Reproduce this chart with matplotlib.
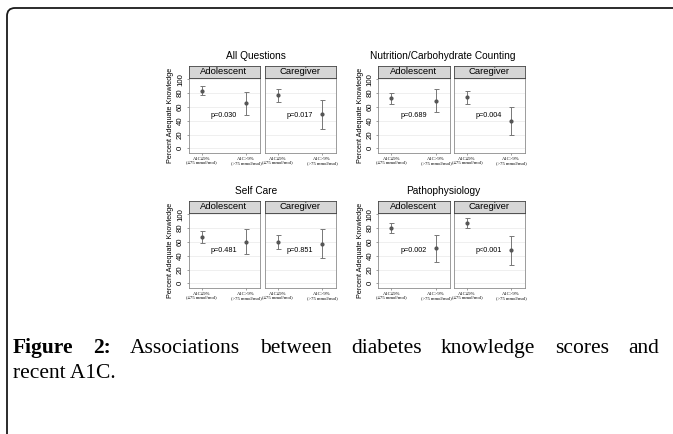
import numpy as np
import matplotlib
matplotlib.use("Agg")
import matplotlib.pyplot as plt
from matplotlib.patches import FancyBboxPatch
from matplotlib.transforms import IdentityTransform

# values (percent adequate knowledge, mean and 95% CI)
topics = ["All Questions", "Nutrition/Carbohydrate Counting", "Self Care", "Pathophysiology"]
groups = ["Adolescent", "Caregiver"]
a1c_labels = ["A1C\u22649%\n(\u226475 mmol/mol)", "A1C>9%\n(>75 mmol/mol)"]

adol_mean = [[83.5, 65.5], [72.5, 69.0], [67.5, 60.5], [79.5, 51.0]]
adol_lo = [[77.0, 48.0], [64.0, 52.0], [59.0, 42.5], [72.5, 31.5]]
adol_hi = [[90.0, 82.0], [80.5, 85.5], [76.0, 78.5], [87.0, 70.0]]
care_mean = [[77.0, 49.5], [74.0, 40.0], [60.5, 57.5], [88.0, 48.5]]
care_lo = [[67.0, 27.5], [64.0, 19.0], [50.0, 36.0], [80.0, 26.5]]
care_hi = [[85.5, 70.5], [83.5, 60.5], [70.0, 79.0], [94.0, 69.0]]
adol_p = ["p=0.030", "p=0.689", "p=0.481", "p=0.002"]
care_p = ["p=0.017", "p=0.004", "p=0.851", "p<0.001"]

caption_bold = ["Figure", "2:"]
caption_line1 = "Associations between diabetes knowledge scores and"
caption_line2 = "recent A1C."

W, H = 673, 434
fig = plt.figure(figsize=(W / 100, H / 100), dpi=100)
fig.patch.set_facecolor("white")


def px_axes(x0, x1, y0, y1):
    return fig.add_axes([x0 / W, 1 - y1 / H, (x1 - x0) / W, (y1 - y0) / H])


col_x = [[(188.5, 259.5), (264.5, 335.5)], [(378, 449.5), (453.5, 524.5)]]
row_y = [(66, 77.7, 153.3), (201, 212.7, 288.3)]
title_x = [256, 443]
title_y = [56, 191]

mark_col = "#555555"
for k, topic in enumerate(topics):
    r, c = divmod(k, 2)
    ys, yt, yb = row_y[r]
    fig.text(title_x[c] / W, 1 - title_y[r] / H, topic, ha="center", va="center",
             fontsize=7.3, family="Liberation Sans")
    data = [(adol_mean[k], adol_lo[k], adol_hi[k], adol_p[k]),
            (care_mean[k], care_lo[k], care_hi[k], care_p[k])]
    for g, (m, lo, hi, p) in enumerate(data):
        x0, x1 = col_x[c][g]
        ax = px_axes(x0, x1, yt, yb)
        xs = np.arange(1, 3)
        m = np.array(m)
        err = np.vstack([m - np.array(lo), np.array(hi) - m])
        ax.errorbar(xs, m, yerr=err, fmt="o", color=mark_col, ms=2.0,
                    ecolor="#777777", elinewidth=0.7, capsize=1.8, capthick=0.7)
        ax.text(1.5, 48, p, ha="center", va="center", fontsize=5.2,
                family="Liberation Sans")
        ax.set_xlim(0.7, 2.3)
        ax.set_ylim(-7.2, 102.3)
        ax.set_yticks(range(0, 101, 20))
        ax.yaxis.grid(True, color="#ececec", lw=0.6)
        ax.set_axisbelow(True)
        ax.set_xticks(xs)
        ax.set_xticklabels(a1c_labels, fontsize=3.3, family="Liberation Serif",
                           linespacing=1.1)
        ax.tick_params(axis="x", length=1.5, width=0.4, pad=1, color="#555555")
        if g == 0:
            ax.tick_params(axis="y", length=1.8, width=0.4, pad=1.5,
                           labelsize=5.6, color="#555555")
            for lbl in ax.get_yticklabels():
                lbl.set_rotation(90)
                lbl.set_va("center")
                lbl.set_family("Liberation Sans")
            ax.set_ylabel("Percent Adequate Knowledge", fontsize=5.2,
                          family="Liberation Sans", labelpad=2)
        else:
            ax.tick_params(axis="y", length=0, labelleft=False)
        for s in ax.spines.values():
            s.set_color("#8c8c8c")
            s.set_linewidth(0.6)
        # strip header
        sx = px_axes(x0, x1, ys, yt)
        sx.set_facecolor("#d6d6d6")
        sx.set_xticks([])
        sx.set_yticks([])
        for s in sx.spines.values():
            s.set_color("#444444")
            s.set_linewidth(0.6)
        sx.text(0.5, 0.5, groups[g], ha="center", va="center", fontsize=6.8,
                family="Liberation Sans", transform=sx.transAxes)

# rounded frame around the figure (only left and top edges visible)
fig.add_artist(FancyBboxPatch((7, -60), 900, H - 8 + 60,
                              boxstyle="round,pad=0,rounding_size=8",
                              transform=IdentityTransform(), fill=False,
                              ec="#1a1a1a", lw=1.3))

# justified caption
renderer = fig.canvas.get_renderer()
left, right = 13, 659
base1, base2 = 353, 378
fs = 15.5
tokens = [(w, "bold") for w in caption_bold] + [(w, "normal") for w in caption_line1.split()]
arts = []
for w, wt in tokens:
    t = fig.text(0, 1 - base1 / H, w, fontsize=fs, family="Liberation Serif",
                 weight=wt, va="baseline", ha="left")
    arts.append(t)
widths = [t.get_window_extent(renderer).width for t in arts]
gap = (right - left - sum(widths)) / (len(arts) - 1)
x = left
for t, wd in zip(arts, widths):
    t.set_x(x / W)
    x += wd + gap
fig.text(left / W, 1 - base2 / H, caption_line2, fontsize=fs,
         family="Liberation Serif", va="baseline", ha="left")

fig.savefig("out.png", dpi=100)
